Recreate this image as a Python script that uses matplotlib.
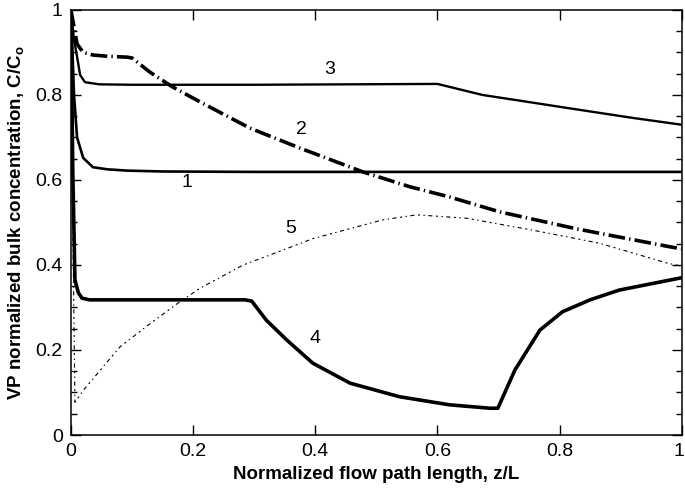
import numpy as np
import matplotlib
matplotlib.use("Agg")
import matplotlib.pyplot as plt
import matplotlib.transforms as mtransforms
from matplotlib.ticker import MultipleLocator

plt.rcParams['font.family'] = ['Liberation Sans', 'DejaVu Sans']
plt.rcParams['mathtext.fontset'] = 'custom'
plt.rcParams['mathtext.rm'] = 'Liberation Sans'
plt.rcParams['mathtext.bf'] = 'Liberation Sans:bold'
plt.rcParams['lines.scale_dashes'] = False

# curve 1
x1 = [0, 0.005, 0.01, 0.02, 0.036, 0.06, 0.092, 0.15, 0.3, 0.6, 1.0]
y1 = [1.0, 0.80, 0.70, 0.652, 0.63, 0.625, 0.622, 0.62, 0.619, 0.619, 0.619]

# curve 2
x2 = [0, 0.01, 0.02, 0.036, 0.06, 0.092, 0.1, 0.129, 0.165, 0.211, 0.293, 0.375,
      0.478, 0.555, 0.62, 0.702, 0.828, 0.98, 1.0]
y2 = [1.0, 0.92, 0.90, 0.894, 0.891, 0.889, 0.887, 0.854, 0.82, 0.784, 0.722, 0.675,
      0.619, 0.584, 0.56, 0.525, 0.485, 0.443, 0.438]

# curve 3
x3 = [0, 0.005, 0.01, 0.015, 0.023, 0.047, 0.1, 0.3, 0.6, 0.62, 0.674, 0.756,
      0.81, 0.92, 1.0]
y3 = [1.0, 0.93, 0.89, 0.847, 0.83, 0.825, 0.824, 0.824, 0.826, 0.819, 0.80,
      0.782, 0.77, 0.746, 0.73]

# curve 4
x4 = [0, 0.003, 0.0065, 0.012, 0.018, 0.03, 0.1, 0.2, 0.285, 0.296, 0.32, 0.353,
      0.396, 0.457, 0.538, 0.62, 0.686, 0.699, 0.727, 0.768, 0.805, 0.85, 0.898, 1.0]
y4 = [1.0, 0.62, 0.365, 0.335, 0.322, 0.318, 0.318, 0.318, 0.318, 0.315, 0.27,
      0.224, 0.169, 0.122, 0.09, 0.071, 0.063, 0.063, 0.153, 0.247, 0.29, 0.318,
      0.341, 0.37]

# curve 5
x5 = [0, 0.003, 0.0065, 0.02, 0.036, 0.08, 0.124, 0.175, 0.211, 0.282, 0.347, 0.396,
      0.51, 0.566, 0.648, 0.756, 0.866, 0.975, 1.0]
y5 = [1.0, 0.5, 0.077, 0.105, 0.132, 0.207, 0.256, 0.31, 0.345, 0.4, 0.435, 0.462,
      0.506, 0.518, 0.51, 0.482, 0.451, 0.405, 0.397]

labels = ['1', '2', '3', '4', '5']
label_x = [0.19, 0.378, 0.424, 0.4, 0.36]
label_y = [0.595, 0.718, 0.859, 0.228, 0.485]

ticks = [0, 0.2, 0.4, 0.6, 0.8, 1.0]
tick_labels = ['0', '0.2', '0.4', '0.6', '0.8', '1']

fig = plt.figure(figsize=(6.85, 4.98), dpi=100)
ax = fig.add_axes([0.1036, 0.1265, 0.8915, 0.8535])

ax.plot(x1, y1, color='k', lw=1.9)
ax.plot(x2, y2, color='k', lw=2.6, linestyle=(0, (12, 3, 1, 3)))
ax.plot(x3, y3, color='k', lw=1.7)
ax.plot(x4, y4, color='k', lw=2.6)
ax.plot(x5, y5, color='k', lw=0.8, linestyle=(0, (1.5, 2.5, 1, 2.5, 3, 2.5)))

for t, tx, ty in zip(labels, label_x, label_y):
    ax.text(tx, ty, t, fontsize=14, ha='center', va='center')

ax.set_xlim(0, 1)
ax.set_ylim(0, 1)
ax.set_xticks(ticks)
ax.set_xticklabels(tick_labels)
ax.set_yticks(ticks)
ax.set_yticklabels(tick_labels)
ax.yaxis.set_minor_locator(MultipleLocator(0.05))
ax.tick_params(which='both', direction='in', top=True, right=True, labelsize=14, width=1)
ax.tick_params(which='major', length=7, pad=6)
ax.tick_params(which='minor', length=4)
for s in ax.spines.values():
    s.set_linewidth(1.1)

# nudge the last x tick label so it stays inside the figure
last = ax.get_xticklabels()[-1]
last.set_transform(last.get_transform() + mtransforms.ScaledTranslation(-3/100, 0, fig.dpi_scale_trans))

ax.set_xlabel('Normalized flow path length, z/L', fontsize=13.5, fontweight='bold', labelpad=4)
ax.set_ylabel(r'VP normalized bulk concentration, C/C$_\mathbf{o}$', fontsize=13.5,
              fontweight='bold', labelpad=6)

fig.savefig('out.png', dpi=100)
